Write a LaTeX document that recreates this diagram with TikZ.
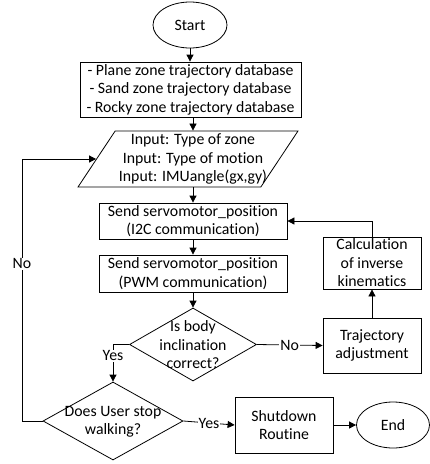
\documentclass[tikz,border=0pt]{standalone}
\usepackage{fontspec}
\setmainfont{Carlito}[Ligatures=NoCommon]
\usetikzlibrary{shapes.geometric,arrows.meta,calc}
\begin{document}
\begin{tikzpicture}[x=1pt,y=-1pt,
  every node/.style={font=\fontsize{15.8}{18.5}\selectfont, align=center},
  box/.style={draw, line width=0.8pt, inner sep=0pt},
  term/.style={draw, ellipse, line width=0.8pt, inner sep=0pt},
  dia/.style={draw, diamond, line width=0.8pt, inner sep=0pt},
  io/.style={draw, trapezium, trapezium left angle=62, trapezium right angle=118, trapezium stretches=true, line width=0.8pt, inner sep=0pt},
  arr/.style={line width=0.8pt, -{Triangle[length=7pt,width=7pt]}},
  lbl/.style={fill=white, inner sep=1pt}]
\useasboundingbox (0,0) rectangle (430,464);
\node[term, minimum width=74pt, minimum height=46pt] (start) at (190,25) {Start};
\node[box, minimum width=221pt, minimum height=55pt] (db) at (190.5,89.5) {- Plane zone trajectory database\\- Sand zone trajectory database\\- Rocky zone trajectory database};
\node[io, minimum width=220pt, minimum height=56pt] (para) at (188,159) {\phantom{.}};
\node at (193,159) {Input: Type of zone\\Input: Type of motion\\Input: IMUangle(gx,gy)};
\node[box, minimum width=188pt, minimum height=36pt] (i2c) at (193,221) {Send servomotor\_position\\(I2C communication)};
\node[box, minimum width=188pt, minimum height=37pt] (pwm) at (193,273.5) {Send servomotor\_position\\(PWM communication)};
\node[dia, minimum width=127pt, minimum height=73pt] (d1) at (193,344.5) {\phantom{.}};
\node at (193,345) {Is body\\inclination\\correct?};
\node[dia, minimum width=140pt, minimum height=78pt] (d2) at (113,421) {\phantom{.}};
\node at (113,422) {Does User stop\\walking?};
\node[box, minimum width=98pt, minimum height=55pt] (traj) at (372,345.5) {Trajectory\\adjustment};
\node[box, minimum width=98pt, minimum height=52pt] (calc) at (372,263) {Calculation\\of inverse\\kinematics};
\node[box, minimum width=98pt, minimum height=56pt] (shut) at (284,425) {Shutdown\\Routine};
\node[term, minimum width=73pt, minimum height=46pt] (end) at (393,425) {End};
\coordinate (yesc) at (113,344.5);
\coordinate (noc) at (22,421);
\draw[arr] (start.south) -- (start.south |- db.north);
\draw[arr] (db.south -| i2c.north) -- (para.north -| i2c.north);
\draw[arr] (para.south -| i2c.north) -- (i2c.north);
\draw[arr] (i2c.south) -- (pwm.north);
\draw[arr] (pwm.south) -- (d1.north);
\draw[arr] (d1.west) -- (yesc) -- node[lbl, pos=0.3] {Yes} (d2.north);
\draw[arr] (d1.east) -- node[lbl] {No} (traj.west);
\draw[arr] (traj.north) -- (calc.south);
\draw[arr] (calc.north) |- (i2c.east);
\draw[arr] (d2.west) -- (noc) |- node[lbl, pos=0.3] {No} (para.west);
\draw[arr] (d2.east) -- node[lbl] {Yes} (shut.west);
\draw[arr] (shut.east) -- (end.west);
\end{tikzpicture}
\end{document}
